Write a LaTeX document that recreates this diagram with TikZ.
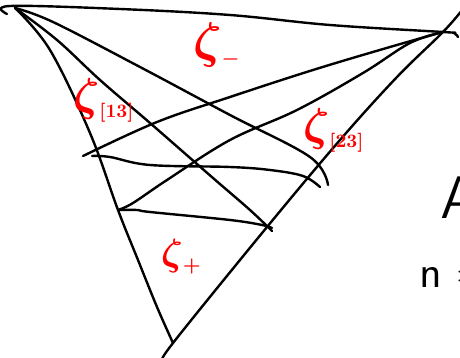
\documentclass[tikz,border=0pt]{standalone}
\usepackage{graphicx}
\begin{document}
\begin{tikzpicture}[x=1pt,y=-1pt,
  edge/.style={line width=2.4pt, line cap=round, line join=round},
  lbl/.style={red, inner sep=0, anchor=base west},
  note/.style={inner sep=0, anchor=base west, font=\sffamily}]
\useasboundingbox (0,0) rectangle (460,358);
\clip (0,0) rectangle (460,358);
% named points
\coordinate (A0) at (7,14);
\coordinate (A) at (15,8);
\coordinate (B) at (443,32);
\coordinate (B0) at (458,37);
\coordinate (C) at (173,343);
\coordinate (BCtop) at (463,9);
\coordinate (BCbot) at (164,359);
\coordinate (Aend1) at (328,185);
\coordinate (Aend2) at (272,231);
\coordinate (Bend1) at (83,156);
\coordinate (Bend2) at (118,210);
\coordinate (X1s) at (92,156);
\coordinate (X1e) at (320,187);
\coordinate (X2e) at (272,228);
% triangle sides
\draw[edge] plot[smooth, tension=0.6] coordinates {(A0) (10,6) (120,9) (230,15) (330,25) (B) (454,33) (B0)};
\draw[edge] plot[smooth, tension=0.6] coordinates {(A) (50,50) (90,133) (Bend2) (138,260) (157,307) (C)};
\draw[edge] plot[smooth, tension=0.6] coordinates {(BCtop) (B) (397,77) (340,140) (267,227) (C) (BCbot)};
% fan from A
\draw[edge] plot[smooth, tension=0.6] coordinates {(A) (53,22) (140,67) (230,115) (310,157) (Aend1)};
\draw[edge] plot[smooth, tension=0.6] coordinates {(A) (57,40) (100,80) (150,123) (213,178) (250,210) (Aend2)};
% fan from B
\draw[edge] plot[smooth, tension=0.6] coordinates {(B) (390,47) (313,70) (230,97) (157,122) (Bend1)};
\draw[edge] plot[smooth, tension=0.6] coordinates {(B) (410,43) (363,73) (297,110) (230,140) (167,180) (133,203) (Bend2)};
% cross lines
\draw[edge] plot[smooth, tension=0.6] coordinates {(X1s) (110,157) (150,165) (230,167) (270,170) (303,176) (X1e)};
\draw[edge] plot[smooth, tension=0.6] coordinates {(Bend2) (137,210) (150,212) (230,220) (262,225) (X2e)};
% labels
\node[lbl] (zm) at (193,58) {\scalebox{5}{\boldmath$\zeta$}\raisebox{-7pt}{\scalebox{2}{\boldmath$-$}}};
\node[lbl] (z13) at (73,111) {\scalebox{4.6}{\boldmath$\zeta$}\raisebox{-7pt}{\scalebox{1.9}{\boldmath$[13]$}}};
\node[lbl] (z23) at (303,141) {\scalebox{4.6}{\boldmath$\zeta$}\raisebox{-7pt}{\scalebox{1.9}{\boldmath$[23]$}}};
\node[lbl] (zp) at (161,265) {\scalebox{3.8}{\boldmath$\zeta$}\raisebox{-6pt}{\scalebox{2}{\boldmath$+$}}};
% cut-off text at the right edge
\node[note] (tA) at (440,218) {\scalebox{6}{A}};
\node[note] (tn) at (419,287) {\scalebox{4.4}{n =}};
\end{tikzpicture}
\end{document}
